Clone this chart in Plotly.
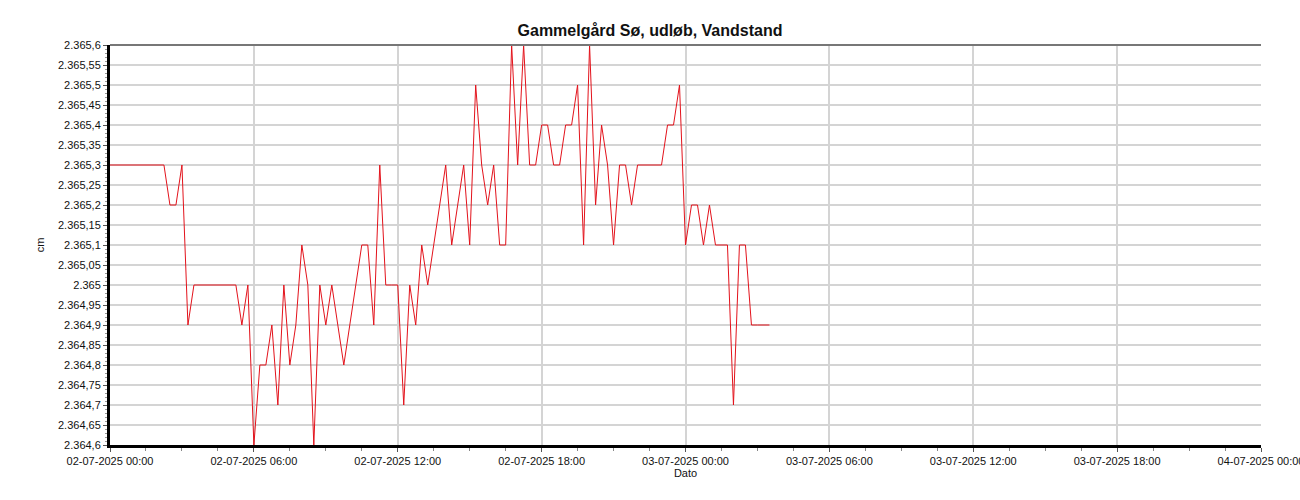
import plotly.graph_objects as go
import pandas as pd

title_text = "Gammelgård Sø, udløb, Vandstand"
x_title = "Dato"
y_title = "cm"

start_time = "2025-07-02 00:00"
step = "15min"

levels = [
    2365.3, 2365.3, 2365.3, 2365.3, 2365.3, 2365.3, 2365.3, 2365.3, 2365.3, 2365.3,
    2365.2, 2365.2, 2365.3, 2364.9,
    2365.0, 2365.0, 2365.0, 2365.0, 2365.0, 2365.0, 2365.0, 2365.0,
    2364.9, 2365.0, 2364.6, 2364.8, 2364.8, 2364.9, 2364.7, 2365.0, 2364.8, 2364.9,
    2365.1, 2365.0, 2364.6, 2365.0, 2364.9, 2365.0, 2364.9, 2364.8, 2364.9, 2365.0,
    2365.1, 2365.1, 2364.9, 2365.3, 2365.0, 2365.0, 2365.0, 2364.7, 2365.0, 2364.9,
    2365.1, 2365.0, 2365.1, 2365.2, 2365.3, 2365.1, 2365.2, 2365.3, 2365.1, 2365.5,
    2365.3, 2365.2, 2365.3, 2365.1, 2365.1, 2365.6, 2365.3, 2365.6, 2365.3, 2365.3,
    2365.4, 2365.4, 2365.3, 2365.3, 2365.4, 2365.4, 2365.5, 2365.1, 2365.6, 2365.2,
    2365.4, 2365.3, 2365.1, 2365.3, 2365.3, 2365.2, 2365.3, 2365.3, 2365.3, 2365.3,
    2365.3, 2365.4, 2365.4, 2365.5, 2365.1, 2365.2, 2365.2, 2365.1, 2365.2, 2365.1,
    2365.1, 2365.1, 2364.7, 2365.1, 2365.1, 2364.9, 2364.9, 2364.9, 2364.9,
]

y_tick_values = [
    2364.6, 2364.65, 2364.7, 2364.75, 2364.8, 2364.85, 2364.9, 2364.95, 2365.0,
    2365.05, 2365.1, 2365.15, 2365.2, 2365.25, 2365.3, 2365.35, 2365.4, 2365.45,
    2365.5, 2365.55, 2365.6,
]
y_tick_labels = [
    "2.364,6", "2.364,65", "2.364,7", "2.364,75", "2.364,8", "2.364,85", "2.364,9",
    "2.364,95", "2.365", "2.365,05", "2.365,1", "2.365,15", "2.365,2", "2.365,25",
    "2.365,3", "2.365,35", "2.365,4", "2.365,45", "2.365,5", "2.365,55", "2.365,6",
]

x_range = ["2025-07-02 00:00", "2025-07-04 00:00"]
y_range = [2364.6, 2365.6]

times = pd.date_range(start=start_time, periods=len(levels), freq=step)

FONT = "Arial, Liberation Sans, sans-serif"

fig = go.Figure()
fig.add_trace(go.Scatter(
    x=times, y=levels, mode="lines",
    line=dict(color="#e3121b", width=1),
    showlegend=False,
))

fig.update_layout(
    width=1300, height=500,
    margin=dict(l=110, r=39, t=45, b=55),
    paper_bgcolor="white", plot_bgcolor="white",
    font=dict(family=FONT, size=11, color="#111111"),
    title=dict(text="<b>" + title_text + "</b>", x=0.5, xref="container", xanchor="center",
               y=0.94, yref="container", yanchor="middle",
               font=dict(family=FONT, size=16, color="#111111")),
    shapes=[dict(type="line", xref="paper", yref="paper", x0=0, x1=1, y0=1, y1=1,
                 line=dict(color="#777777", width=2))],
)

fig.update_xaxes(
    range=x_range, type="date",
    tickformat="%d-%m-%Y %H:%M", dtick=6 * 3600 * 1000, tick0="2025-07-02 00:00",
    showgrid=True, gridcolor="#d4d4d4", gridwidth=2,
    showline=True, linecolor="black", linewidth=3,
    ticks="outside", ticklen=4, tickcolor="#555555",
    minor=dict(ticks="outside", ticklen=3, dtick=90 * 60 * 1000, tickcolor="#888888", showgrid=False),
    tickfont=dict(size=11),
    ticklabeloverflow="allow",
    title=dict(text=x_title, font=dict(size=11), standoff=2),
    zeroline=False, automargin=False,
)

fig.update_yaxes(
    range=y_range,
    tickvals=y_tick_values, ticktext=y_tick_labels,
    showgrid=True, gridcolor="#d4d4d4", gridwidth=2,
    showline=True, linecolor="black", linewidth=3,
    ticks="outside", ticklen=4, tickcolor="#555555",
    minor=dict(ticks="outside", ticklen=2, dtick=0.01, tickcolor="#999999", showgrid=False),
    tickfont=dict(size=11),
    title=dict(text=y_title, font=dict(size=11), standoff=12),
    zeroline=False, automargin=False,
)

fig.write_html(
    "out.html",
    config={"displayModeBar": False},
    post_script="document.body.style.margin='0';document.body.style.overflow='hidden';",
)
